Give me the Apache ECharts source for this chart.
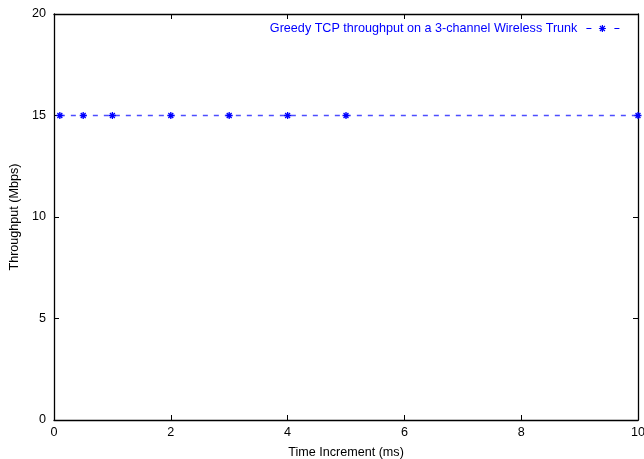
<!DOCTYPE html>
<html><head><meta charset="utf-8">
<script src="https://cdn.jsdelivr.net/npm/echarts@6/dist/echarts.min.js"></script>
<style>html,body{margin:0;padding:0;background:#fff}#c{width:644px;height:459px}</style>
</head><body><div id="c"></div>
<script>
const seriesName = 'Greedy TCP throughput on a 3-channel Wireless Trunk';
const timeIncrement = [0.1, 0.5, 1, 2, 3, 4, 5, 10];
const throughput = [15, 15, 15, 15, 15, 15, 15, 15];
const xTicks = [0, 2, 4, 6, 8, 10];
const yTicks = [0, 5, 10, 15, 20];

const font = 'Liberation Sans, Helvetica, Arial, sans-serif';
const fs = 12.6;
const star = 'path://M0,-5L0,5M-5,0L5,0M-3.5,-3.5L3.5,3.5M-3.5,3.5L3.5,-3.5';
const chart = echarts.init(document.getElementById('c'));
function ax(extra) {
  return Object.assign({
    axisLine: {show: true, onZero: false, lineStyle: {color: '#000', width: 1.3}},
    axisTick: {show: true, inside: true, length: 5, lineStyle: {color: '#000', width: 1}},
    splitLine: {show: false}
  }, extra);
}
chart.setOption({
  animation: false,
  color: ['#0000ff'],
  grid: {left: 54, right: 6, top: 14, bottom: 39, containLabel: false, outerBoundsMode: 'none'},
  legend: {
    right: 18, top: 17,
    align: 'right',
    itemWidth: 38, itemHeight: 10,
    icon: 'path://M0,5L0,5M4,5L9,5M32,5L37,5M38,5L38,5M20,1.5L20,8.5M16.5,5L23.5,5M17.5,2.5L22.5,7.5M17.5,7.5L22.5,2.5',
    itemStyle: {color: '#0000ff', borderColor: '#0000ff', borderWidth: 1.2},
    textStyle: {color: '#0000ff', fontSize: fs, fontFamily: font},
    data: [seriesName]
  },
  xAxis: [
    ax({
      type: 'value', min: xTicks[0], max: xTicks[xTicks.length-1], interval: 2,
      name: 'Time Increment (ms)', nameLocation: 'middle', nameGap: 26,
      nameTextStyle: {color: '#000', fontSize: fs, fontFamily: font},
      axisLabel: {color: '#000', fontSize: fs, fontFamily: font, margin: 6}
    }),
    ax({
      type: 'value', position: 'top', min: xTicks[0], max: xTicks[xTicks.length-1], interval: 2,
      axisLabel: {show: false}
    })
  ],
  yAxis: [
    ax({
      type: 'value', min: yTicks[0], max: yTicks[yTicks.length-1], interval: 5,
      name: 'Throughput (Mbps)', nameLocation: 'middle', nameGap: 31,
      nameTextStyle: {color: '#000', fontSize: fs, fontFamily: font},
      axisLabel: {color: '#000', fontSize: fs, fontFamily: font, margin: 8}
    }),
    ax({
      type: 'value', position: 'right', min: yTicks[0], max: yTicks[yTicks.length-1], interval: 5,
      axisLabel: {show: false}
    })
  ],
  series: [{
    name: seriesName,
    type: 'line',
    clip: false,
    data: timeIncrement.map((x, i) => [x, throughput[i]]),
    symbol: star,
    symbolSize: 7,
    showSymbol: true,
    itemStyle: {color: '#0000ff', borderColor: '#0000ff', borderWidth: 1.3},
    lineStyle: {color: '#4d4dff', width: 1.4, type: [5, 6]}
  }]
});
</script></body></html>
